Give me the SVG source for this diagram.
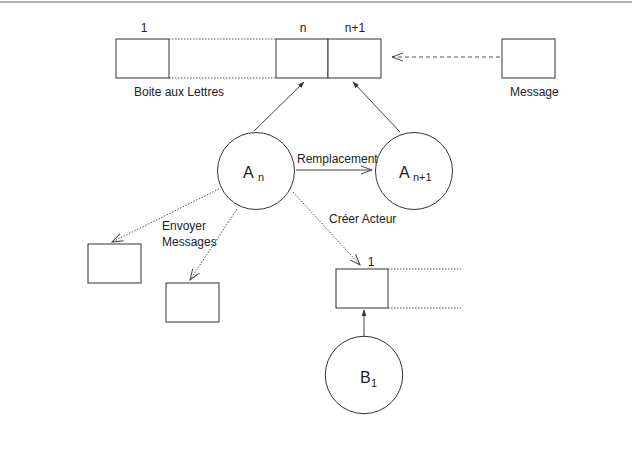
<svg xmlns="http://www.w3.org/2000/svg" width="632" height="453" viewBox="0 0 632 453">
<style>
.box{fill:#fff;stroke:#333;stroke-width:1}
.node circle{fill:#fff;stroke:#333;stroke-width:1}
.t{font-family:"Liberation Sans",Arial,sans-serif;font-size:12px;fill:#222}
.big{font-family:"Liberation Sans",Arial,sans-serif;font-size:16px;fill:#222}
.sub{font-family:"Liberation Sans",Arial,sans-serif;font-size:11px;fill:#222}
.dot{stroke:#555;stroke-width:1;stroke-dasharray:1.5 1.5;fill:none}
.dash{stroke:#555;stroke-width:1;stroke-dasharray:4 3;fill:none}
.solid{stroke:#444;stroke-width:1;fill:none}
</style>
<defs>
<marker id="fill" viewBox="0 0 10 10" refX="9" refY="5" markerWidth="7" markerHeight="7" markerUnits="userSpaceOnUse" orient="auto">
<path d="M0,1.5 L10,5 L0,8.5 z" fill="#333"/>
</marker>
<marker id="open" viewBox="0 0 12 10" refX="11" refY="5" markerWidth="12" markerHeight="10" markerUnits="userSpaceOnUse" orient="auto">
<path d="M0,1 L11,5 L0,9" fill="none" stroke="#444" stroke-width="1"/>
</marker>
</defs>
<line x1="0" y1="2" x2="632" y2="2" stroke="#999" stroke-width="1.5"/>

<g id="mailbox">
<rect class="box" x="116" y="39" width="53" height="39"/>
<line class="dot" x1="169" y1="39" x2="276" y2="39"/>
<line class="dot" x1="169" y1="78" x2="276" y2="78"/>
<rect class="box" x="276" y="39" width="52" height="39"/>
<rect class="box" x="328" y="39" width="53" height="39"/>
<text class="t" x="144" y="32" text-anchor="middle">1</text>
<text class="t" x="303" y="32" text-anchor="middle">n</text>
<text class="t" x="355" y="32" text-anchor="middle">n+1</text>
<text class="t" x="134" y="96">Boite aux Lettres</text>
</g>

<g id="message">
<rect class="box" x="502" y="39" width="53" height="39"/>
<text class="t" x="510" y="96">Message</text>
</g>

<g id="An" class="node">
<circle cx="256" cy="171" r="38.5"/>
<text class="big" x="243" y="178">A</text>
<text class="sub" x="258" y="181">n</text>
</g>

<g id="An1" class="node">
<circle cx="414" cy="171" r="38.5"/>
<text class="big" x="399" y="178">A</text>
<text class="sub" x="413" y="181">n+1</text>
</g>

<g id="box_left">
<rect class="box" x="88" y="244" width="53" height="39"/>
</g>
<g id="box_mid">
<rect class="box" x="166" y="283" width="53" height="39"/>
</g>

<g id="B1list">
<rect class="box" x="336" y="269" width="52" height="39"/>
<line class="dot" x1="388" y1="269" x2="461" y2="269"/>
<line class="dot" x1="388" y1="308" x2="461" y2="308"/>
<text class="t" x="371" y="266" text-anchor="middle">1</text>
</g>

<g id="B1" class="node">
<circle cx="364" cy="375" r="38.7"/>
<text class="big" x="360" y="383">B</text>
<text class="sub" x="371" y="387">1</text>
</g>

<g id="connectors">
<line class="solid" x1="254" y1="131" x2="304" y2="82" marker-end="url(#fill)"/>
<line class="solid" x1="400" y1="132" x2="353" y2="82" marker-end="url(#fill)"/>
<line class="dash" x1="500" y1="57" x2="392" y2="57" marker-end="url(#open)"/>
<line class="solid" x1="296" y1="170" x2="372" y2="170" marker-end="url(#open)"/>
<line class="dot" x1="219" y1="189" x2="112" y2="242" marker-end="url(#open)"/>
<line class="dot" x1="237" y1="209" x2="190" y2="280" marker-end="url(#open)"/>
<line class="dot" x1="293" y1="192" x2="360" y2="265" marker-end="url(#open)"/>
<line class="solid" x1="364" y1="336" x2="364" y2="310" marker-end="url(#fill)"/>
<text class="t" x="297" y="163">Remplacement</text>
<text class="t" x="162" y="230">Envoyer</text>
<text class="t" x="162" y="246">Messages</text>
<text class="t" x="329" y="223">Créer Acteur</text>
</g>
</svg>
